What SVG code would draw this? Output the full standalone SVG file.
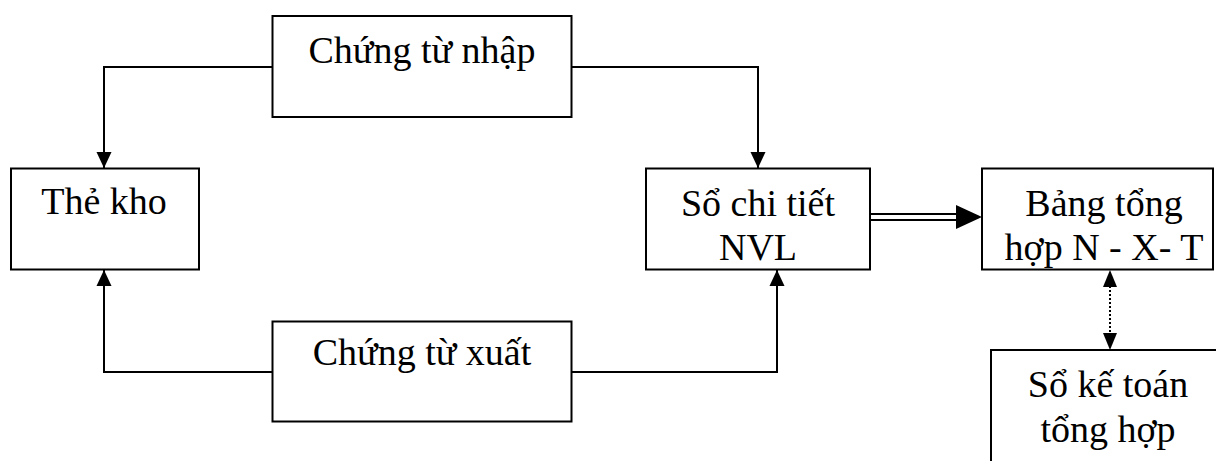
<svg xmlns="http://www.w3.org/2000/svg" width="1216" height="461" viewBox="0 0 1216 461">
  <style>
    .box { fill: #ffffff; stroke: #000000; stroke-width: 2; }
    .lbl { font-family: "Liberation Serif", "Times New Roman", serif; font-size: 38px; fill: #000000; text-anchor: middle; }
    .wire { fill: none; stroke: #000000; stroke-width: 2; }
    .dot { fill: none; stroke: #000000; stroke-width: 2; stroke-dasharray: 2 2; }
  </style>
  <defs>
    <marker id="tri" markerUnits="userSpaceOnUse" markerWidth="16" markerHeight="18" refX="17" refY="8" orient="auto" viewBox="0 0 17 16">
      <path d="M0,0 L17,8 L0,16 Z" fill="#000000"/>
    </marker>
  </defs>

  <rect width="1216" height="461" fill="#ffffff"/>

  <g id="connectors">
    <!-- receipt vouchers to stock card and detail ledger -->
    <polyline class="wire" points="272,67 104,67 104,168" marker-end="url(#tri)"/>
    <polyline class="wire" points="572,67 758,67 758,168" marker-end="url(#tri)"/>
    <!-- issue vouchers to stock card and detail ledger -->
    <polyline class="wire" points="272,372 104,372 104,270" marker-end="url(#tri)"/>
    <polyline class="wire" points="572,372 777,372 777,270" marker-end="url(#tri)"/>
    <!-- double line to summary table -->
    <line class="wire" x1="870" y1="214" x2="962" y2="214"/>
    <line class="wire" x1="870" y1="220" x2="962" y2="220"/>
    <path d="M956,205 L982,217 L956,229 Z" fill="#000000"/>
    <!-- dotted two-way link to general ledger -->
    <line class="dot" x1="1110" y1="286" x2="1110" y2="334"/>
    <path d="M1110,270 L1117,287 L1103,287 Z" fill="#000000"/>
    <path d="M1110,350 L1117,333 L1103,333 Z" fill="#000000"/>
  </g>

  <g id="chung-tu-nhap">
    <rect class="box" x="272.5" y="16" width="299" height="101"/>
    <text class="lbl" x="422" y="63">Chứng từ nhập</text>
  </g>

  <g id="the-kho">
    <rect class="box" x="11" y="168.5" width="188" height="101"/>
    <text class="lbl" x="104" y="214">Thẻ kho</text>
  </g>

  <g id="so-chi-tiet">
    <rect class="box" x="646" y="168.5" width="224" height="101"/>
    <text class="lbl" x="758" y="216">Sổ chi tiết</text>
    <text class="lbl" x="758" y="260">NVL</text>
  </g>

  <g id="bang-tong-hop">
    <rect class="box" x="982" y="168.5" width="231" height="101"/>
    <text class="lbl" x="1104" y="216">Bảng tổng</text>
    <text class="lbl" x="1104" y="260">hợp N - X- T</text>
  </g>

  <g id="so-ke-toan">
    <rect class="box" x="991" y="350" width="240" height="130"/>
    <text class="lbl" x="1108" y="397">Sổ kế toán</text>
    <text class="lbl" x="1108" y="442">tổng hợp</text>
  </g>

  <g id="chung-tu-xuat">
    <rect class="box" x="272.5" y="321.5" width="299" height="100"/>
    <text class="lbl" x="422" y="365">Chứng từ xuất</text>
  </g>
</svg>
